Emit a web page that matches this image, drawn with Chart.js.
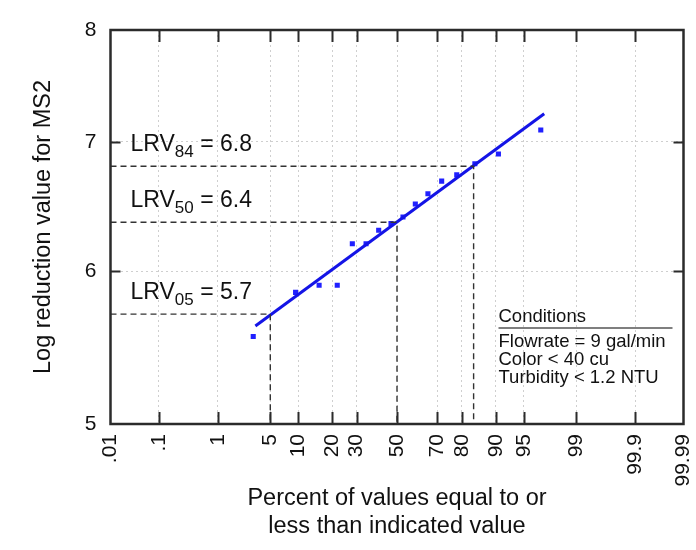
<!DOCTYPE html>
<html>
<head>
<meta charset="utf-8">
<script src="https://cdn.jsdelivr.net/npm/chart.js@4.4.1/dist/chart.umd.min.js"></script>
<style>
  body { margin: 0; background: #fff; }
  #wrap { width: 696px; height: 550px; }
</style>
</head>
<body>
<div id="wrap"><canvas id="myChart" width="696" height="550"></canvas></div>
<script>
// probability axis ticks (percent) and their labels
const pctTicks = [0.01, 0.1, 1, 5, 10, 20, 30, 50, 70, 80, 90, 95, 99, 99.9, 99.99];
const pctLabels = ['.01', '.1', '1', '5', '10', '20', '30', '50', '70', '80', '90', '95', '99', '99.9', '99.99'];
const lrvTicks = [5, 6, 7, 8];

// observed values: plotting position (%) and LRV
const obsPct = [3.1, 9.4, 15.6, 21.9, 28.1, 34.4, 40.6, 46.9, 53.1, 59.4, 65.6, 71.9, 78.1, 84.4, 90.6, 96.9];
const obsLrv = [5.55, 5.85, 5.9, 5.9, 6.2, 6.2, 6.3, 6.35, 6.4, 6.5, 6.58, 6.68, 6.73, 6.82, 6.9, 7.1];

// fitted line end points
const fitPct = [3.3, 97.2];
const fitLrv = [5.62, 7.24];

// reference levels
const refPct = [5, 50, 84];
const refLrv = [5.7, 6.36, 6.8];
const refSub = ['05', '50', '84'];
const refText = ['5.7', '6.4', '6.8'];

const condTitle = 'Conditions';
const conditions = ['Flowrate = 9 gal/min', 'Color < 40 cu', 'Turbidity < 1.2 NTU'];

const FONT = '"Liberation Sans", Arial, Helvetica, sans-serif';

// inverse of the standard normal CDF (Acklam)
function probit(p) {
  const a = [-3.969683028665376e+01, 2.209460984245205e+02, -2.759285104469687e+02, 1.383577518672690e+02, -3.066479806614716e+01, 2.506628277459239e+00];
  const b = [-5.447609879822406e+01, 1.615858368580409e+02, -1.556989798598866e+02, 6.680131188771972e+01, -1.328068155288572e+01];
  const c = [-7.784894002430293e-03, -3.223964580411365e-01, -2.400758277161838e+00, -2.549732539343734e+00, 4.374664141464968e+00, 2.938163982698783e+00];
  const d = [7.784695709041462e-03, 3.224671290700398e-01, 2.445134137142996e+00, 3.754408661907416e+00];
  const pl = 0.02425;
  let q, r;
  if (p < pl) {
    q = Math.sqrt(-2 * Math.log(p));
    return (((((c[0]*q+c[1])*q+c[2])*q+c[3])*q+c[4])*q+c[5]) / ((((d[0]*q+d[1])*q+d[2])*q+d[3])*q+1);
  }
  if (p > 1 - pl) {
    q = Math.sqrt(-2 * Math.log(1 - p));
    return -(((((c[0]*q+c[1])*q+c[2])*q+c[3])*q+c[4])*q+c[5]) / ((((d[0]*q+d[1])*q+d[2])*q+d[3])*q+1);
  }
  q = p - 0.5; r = q * q;
  return (((((a[0]*r+a[1])*r+a[2])*r+a[3])*r+a[4])*r+a[5])*q / (((((b[0]*r+b[1])*r+b[2])*r+b[3])*r+b[4])*r+1);
}
const z = pct => probit(pct / 100);
const xMin = z(pctTicks[0]);
const xMax = z(pctTicks[pctTicks.length - 1]);

const refSets = refPct.map((p, i) => ({
  data: [{x: xMin, y: refLrv[i]}, {x: z(p), y: refLrv[i]}, {x: z(p), y: lrvTicks[0]}],
  showLine: true,
  borderColor: '#333',
  borderWidth: 1.4,
  borderDash: [6, 4],
  pointRadius: 0
}));

// frame, inward ticks and text annotations
const decor = {
  id: 'decor',
  afterDraw(chart) {
    const ctx = chart.ctx;
    const a = chart.chartArea;
    const xs = chart.scales.x, ys = chart.scales.y;
    ctx.save();
    ctx.strokeStyle = '#2b2b2b';
    ctx.lineWidth = 2;
    pctTicks.slice(1, -1).forEach(p => {
      const px = Math.round(xs.getPixelForValue(z(p))) + 0.5;
      ctx.beginPath();
      ctx.moveTo(px, a.top); ctx.lineTo(px, a.top + 12);
      ctx.moveTo(px, a.bottom); ctx.lineTo(px, a.bottom - 12);
      ctx.stroke();
    });
    lrvTicks.slice(1, -1).forEach(v => {
      const py = Math.round(ys.getPixelForValue(v)) + 0.5;
      ctx.beginPath();
      ctx.moveTo(a.left, py); ctx.lineTo(a.left + 10, py);
      ctx.moveTo(a.right, py); ctx.lineTo(a.right - 10, py);
      ctx.stroke();
    });
    ctx.lineWidth = 2.5;
    ctx.strokeRect(a.left, a.top, a.right - a.left, a.bottom - a.top);

    // LRV labels
    ctx.fillStyle = '#111';
    ctx.textBaseline = 'alphabetic';
    ctx.textAlign = 'left';
    refLrv.forEach((v, i) => {
      let x = a.left + 20;
      const yb = ys.getPixelForValue(v) - 15;
      ctx.font = '23px ' + FONT;
      ctx.fillText('LRV', x, yb);
      x += ctx.measureText('LRV').width;
      ctx.font = '17px ' + FONT;
      ctx.fillText(refSub[i], x, yb + 6);
      x += ctx.measureText(refSub[i]).width;
      ctx.font = '23px ' + FONT;
      ctx.fillText(' = ' + refText[i], x, yb);
    });

    // conditions box
    const cx = a.right - 185;
    const cy = a.bottom - 102;
    ctx.font = '18.5px ' + FONT;
    ctx.fillText(condTitle, cx, cy);
    ctx.strokeStyle = '#555';
    ctx.lineWidth = 1.5;
    ctx.beginPath();
    ctx.moveTo(cx, cy + 6); ctx.lineTo(a.right - 11, cy + 6);
    ctx.stroke();
    conditions.forEach((t, i) => ctx.fillText(t, cx, cy + 24.5 + i * 18.3));
    ctx.restore();
  }
};

const ctx = document.getElementById('myChart');

new Chart(ctx, {
  type: 'scatter',
  data: {
    datasets: [
      ...refSets,
      {
        data: fitPct.map((p, i) => ({x: z(p), y: fitLrv[i]})),
        showLine: true,
        borderColor: '#1414e6',
        borderWidth: 3,
        pointRadius: 0
      },
      {
        data: obsPct.map((p, i) => ({x: z(p), y: obsLrv[i]})),
        pointStyle: 'rect',
        pointRadius: 3.6,
        pointBorderWidth: 0,
        backgroundColor: '#2020ff',
        borderColor: '#2020ff'
      }
    ]
  },
  options: {
    responsive: false,
    animation: false,
    layout: { padding: { left: 0, right: 12.5, top: 30, bottom: 0 } },
    plugins: { legend: { display: false }, tooltip: { enabled: false } },
    scales: {
      x: {
        type: 'linear',
        min: xMin,
        max: xMax,
        afterBuildTicks: s => { s.ticks = pctTicks.map(p => ({ value: z(p) })); },
        afterFit: s => { s.height = 126; s.paddingLeft = 0; s.paddingRight = 0; },
        ticks: {
          autoSkip: false,
          minRotation: 90,
          maxRotation: 90,
          padding: 10,
          color: '#111',
          font: { family: FONT, size: 21 },
          callback: (v, i) => pctLabels[i]
        },
        grid: {
          drawTicks: false,
          color: c => (c.index === 0 || c.index === pctTicks.length - 1) ? 'rgba(0,0,0,0)' : '#cfcfcf',
          lineWidth: 1
        },
        border: { display: false, dash: [2, 3] },
        title: {
          display: true,
          text: ['Percent of values equal to or', 'less than indicated value'],
          color: '#111',
          font: { family: FONT, size: 23.5, lineHeight: 1.19 },
          padding: { top: 0, bottom: 10 }
        }
      },
      y: {
        type: 'logarithmic',
        min: 5,
        max: 8,
        afterBuildTicks: s => { s.ticks = lrvTicks.map(v => ({ value: v })); },
        afterFit: s => { s.width = 110.5; s.paddingTop = 0; s.paddingBottom = 0; },
        ticks: {
          padding: 14,
          color: '#111',
          font: { family: FONT, size: 21 },
          callback: v => String(v)
        },
        grid: {
          drawTicks: false,
          color: c => (c.tick && (c.tick.value === 5 || c.tick.value === 8)) ? 'rgba(0,0,0,0)' : '#cfcfcf',
          lineWidth: 1
        },
        border: { display: false, dash: [2, 3] },
        title: {
          display: true,
          text: 'Log reduction value for MS2',
          color: '#111',
          font: { family: FONT, size: 23.5, lineHeight: 1.2 },
          padding: { top: 29, bottom: 0 }
        }
      }
    }
  },
  plugins: [decor]
});
</script>
</body>
</html>
